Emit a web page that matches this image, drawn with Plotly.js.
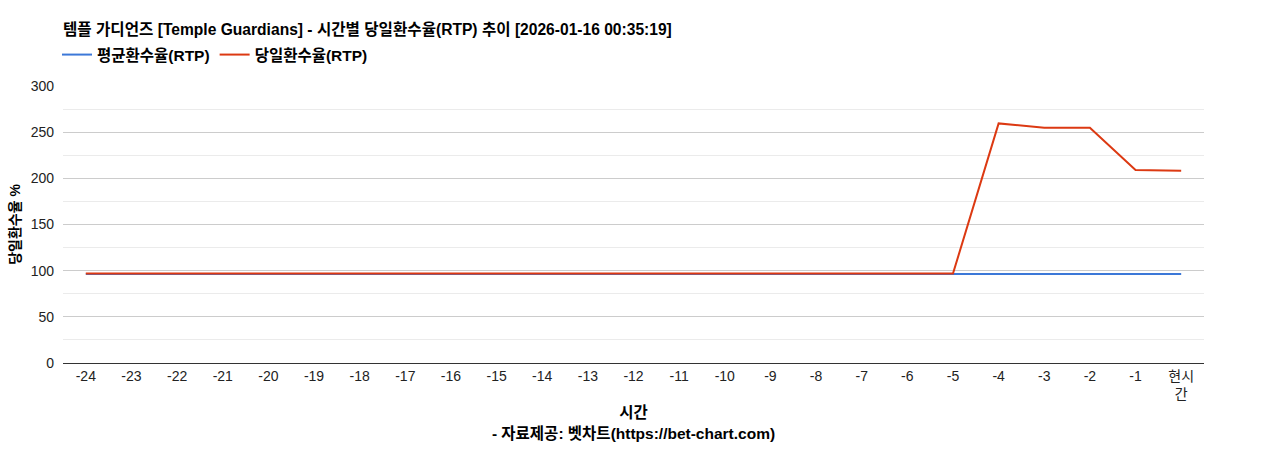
<!DOCTYPE html>
<html>
<head>
<meta charset="utf-8">
<script src="https://cdn.plot.ly/plotly-3.0.1.min.js"></script>
<style>
  html, body { margin: 0; padding: 0; background: #fff; }
  #chart { width: 1268px; height: 450px; }
</style>
</head>
<body>
<div id="chart"></div>
<script>
// hours before now, last one is "now"
var hours = ['-24', '-23', '-22', '-21', '-20', '-19', '-18', '-17', '-16', '-15', '-14', '-13',
    '-12', '-11', '-10', '-9', '-8', '-7', '-6', '-5', '-4', '-3', '-2', '-1', '현시<br>간'];

var avgRtp = [96.5, 96.5, 96.5, 96.5, 96.5, 96.5, 96.5, 96.5, 96.5, 96.5, 96.5, 96.5,
    96.5, 96.5, 96.5, 96.5, 96.5, 96.5, 96.5, 96.5, 96.5, 96.5, 96.5, 96.5, 96.5];

var dailyRtp = [96.8, 96.8, 96.8, 96.8, 96.8, 96.8, 96.8, 96.8, 96.8, 96.8, 96.8, 96.8,
    96.8, 96.8, 96.8, 96.8, 96.8, 96.8, 96.8, 96.8, 259.5, 254.8, 254.8, 209, 208.3];

var yTicks = [0, 50, 100, 150, 200, 250, 300];

var fontFamily = 'Arial, "Liberation Sans", "Noto Sans CJK KR", sans-serif';

var traces = [
    {
        x: hours,
        y: avgRtp,
        name: '<b>평균환수율(RTP)</b>',
        type: 'scatter',
        mode: 'lines',
        line: { color: '#3c78d8', width: 2 }
    },
    {
        x: hours,
        y: dailyRtp,
        name: '<b>당일환수율(RTP)</b>',
        type: 'scatter',
        mode: 'lines',
        line: { color: '#dc3912', width: 2 }
    }
];

var layout = {
    width: 1268,
    height: 450,
    paper_bgcolor: '#fff',
    plot_bgcolor: '#fff',
    font: { family: fontFamily, size: 14, color: '#222' },
    margin: { l: 63, r: 64, t: 86, b: 87 },
    title: {
        text: '<b>템플 가디언즈 [Temple Guardians] - 시간별 당일환수율(RTP) 추이 [2026-01-16 00:35:19]</b>',
        font: { size: 15.6, color: '#000' },
        x: 63 / 1268,
        xanchor: 'left',
        y: 1 - 30 / 450,
        yanchor: 'middle'
    },
    showlegend: true,
    legend: {
        orientation: 'h',
        x: -6 / 1141,
        xanchor: 'left',
        y: 1 + 31 / 277,
        yanchor: 'middle',
        font: { size: 15.5, color: '#000' },
        itemwidth: 30,
        tracegroupgap: 0
    },
    xaxis: {
        type: 'category',
        range: [-0.5, 24.5],
        showgrid: false,
        showline: true,
        linecolor: '#333',
        linewidth: 1,
        ticks: '',
        tickfont: { size: 14, color: '#222' },
        fixedrange: true,
        title: {
            text: '<b>시간</b><br><b>- 자료제공: 벳차트(https://bet-chart.com)</b>',
            font: { size: 15.5, color: '#000' },
            standoff: 6
        }
    },
    yaxis: {
        range: [0, 300],
        tickvals: yTicks,
        showgrid: true,
        gridcolor: '#cccccc',
        zeroline: false,
        showline: false,
        ticks: '',
        ticklabelstandoff: 8,
        tickfont: { size: 14, color: '#222' },
        minor: { dtick: 25, showgrid: true, gridcolor: '#ebebeb', ticks: '' },
        title: {
            text: '<b>당일환수율 %</b>',
            font: { size: 14, color: '#000' },
            standoff: 6
        }
    }
};

Plotly.newPlot('chart', traces, layout, { displayModeBar: false, responsive: false });
</script>
</body>
</html>
